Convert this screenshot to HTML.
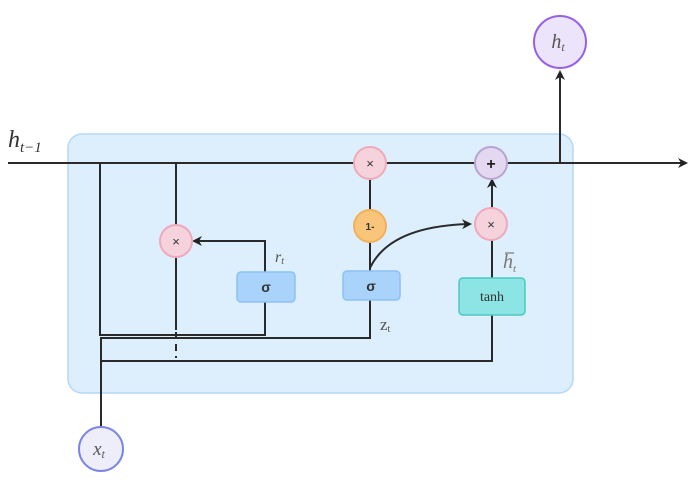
<!DOCTYPE html>
<html><head><style>body{margin:0;background:#fff}svg{display:block}</style></head><body>
<svg width="699" height="486" viewBox="0 0 699 486" xmlns="http://www.w3.org/2000/svg" font-family="Liberation Serif, serif">
<defs><marker id="a" markerWidth="10" markerHeight="10" refX="8" refY="5" orient="auto" markerUnits="userSpaceOnUse"><path d="M0,0 L10,5 L0,10 L3,5 z" fill="#222"/></marker></defs>
<rect x="68" y="134" width="505" height="259" rx="14" fill="#ddeefc" stroke="#b4d8f6" stroke-width="1.5"/>
<g fill="none" stroke="#2a2a2a" stroke-width="2">
<path d="M8,163 H686" marker-end="url(#a)"/>
<path d="M100,163 V335 H265 V241 H194" marker-end="url(#a)"/>
<path d="M176,163 V330"/>
<path d="M176,332 V358" stroke-dasharray="7,5"/>
<path d="M101,427 V338 H370 V163"/>
<path d="M101,361 H492 V180" marker-end="url(#a)"/>
<path d="M370,268 Q390,226 470,224" marker-end="url(#a)"/>
<path d="M557,163 H560 V72" marker-end="url(#a)"/>
</g>
<circle cx="176" cy="241" r="16" fill="#f5d2dc" stroke="#f0a9b8" stroke-width="2"/>
<text x="176" y="246" font-family="Liberation Sans,sans-serif" font-size="13" text-anchor="middle" fill="#333">×</text>
<circle cx="370" cy="163" r="16" fill="#f5d2dc" stroke="#f0a9b8" stroke-width="2"/>
<text x="370" y="168" font-family="Liberation Sans,sans-serif" font-size="13" text-anchor="middle" fill="#333">×</text>
<circle cx="491" cy="224" r="16" fill="#f5d2dc" stroke="#f0a9b8" stroke-width="2"/>
<text x="491" y="229" font-family="Liberation Sans,sans-serif" font-size="13" text-anchor="middle" fill="#333">×</text>
<circle cx="491" cy="163" r="16" fill="#e3d8ef" stroke="#b9a3d3" stroke-width="2"/>
<text x="491" y="169" font-family="Liberation Sans,sans-serif" font-size="16" font-weight="bold" text-anchor="middle" fill="#222">+</text>
<circle cx="370" cy="226" r="16" fill="#f8c57a" stroke="#f2b05a" stroke-width="2"/>
<text x="370" y="230" font-family="Liberation Sans,sans-serif" font-size="10" font-weight="bold" text-anchor="middle" fill="#333">1-</text>
<rect x="237" y="272" width="58" height="30" rx="4" fill="#a9d3fb" stroke="#8cc2f5" stroke-width="1.5"/>
<text x="266" y="292" font-family="Liberation Sans,sans-serif" font-size="14" font-weight="bold" text-anchor="middle" fill="#333">σ</text>
<rect x="343" y="271" width="57" height="29" rx="4" fill="#a9d3fb" stroke="#8cc2f5" stroke-width="1.5"/>
<text x="371" y="291" font-family="Liberation Sans,sans-serif" font-size="14" font-weight="bold" text-anchor="middle" fill="#333">σ</text>
<rect x="459" y="278" width="66" height="37" rx="4" fill="#8de4e4" stroke="#4cc8c4" stroke-width="1.5"/>
<text x="492" y="301" font-size="14" text-anchor="middle" fill="#333">tanh</text>
<circle cx="101" cy="449" r="22" fill="#eeeefa" stroke="#7c86e0" stroke-width="2"/>
<text x="99" y="455" font-size="19" font-style="italic" text-anchor="middle" fill="#555">x<tspan font-size="12" dy="3">t</tspan></text>
<circle cx="560" cy="42" r="26" fill="#ece4fa" stroke="#9661e6" stroke-width="2"/>
<text x="558" y="48" font-size="20" font-style="italic" text-anchor="middle" fill="#555">h<tspan font-size="12" dy="3">t</tspan></text>
<text x="8" y="147" font-size="24" font-style="italic" fill="#333">h<tspan font-size="15" dy="5">t−1</tspan></text>
<text x="275" y="262" font-size="16" font-style="italic" fill="#555">r<tspan font-size="10" dy="2">t</tspan></text>
<text x="380" y="330" font-size="17" fill="#555">z<tspan font-size="10" dy="2">t</tspan></text>
<text x="503" y="268" font-size="20" font-style="italic" fill="#777">h<tspan font-size="11" dy="4">t</tspan></text>
<path d="M505,253 h9" stroke="#777" stroke-width="1.2"/>
</svg>
</body></html>
